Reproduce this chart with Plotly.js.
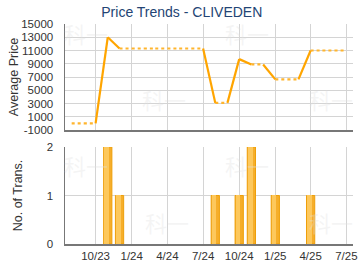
<!DOCTYPE html>
<html>
<head>
<meta charset="utf-8">
<script src="https://cdn.plot.ly/plotly-3.0.1.min.js"></script>
<style>html,body{margin:0;padding:0;background:#fff;}#chart{width:360px;height:270px;}</style>
</head>
<body>
<div id="chart"></div>
<script>
// Monthly series (month start dates)
const months = ['2023-08-01','2023-09-01','2023-10-01','2023-11-01','2023-12-01','2024-01-01','2024-02-01','2024-03-01','2024-04-01','2024-05-01','2024-06-01','2024-07-01','2024-08-01','2024-09-01','2024-10-01','2024-11-01','2024-12-01','2025-01-01','2025-02-01','2025-03-01','2025-04-01','2025-05-01','2025-06-01','2025-07-01'];
const avgPrice = [0,0,0,13000,11300,11300,11300,11300,11300,11300,11300,11300,3100,3100,9700,8900,8900,6650,6650,6650,11000,11000,11000,11000];
const transCount = [0,0,0,2,1,0,0,0,0,0,0,0,1,0,1,2,0,1,0,0,1,0,0,0];
const tickVals = ['2023-10-01','2024-01-01','2024-04-01','2024-07-01','2024-10-01','2025-01-01','2025-04-01','2025-07-01'];
const tickText = ['10/23','1/24','4/24','7/24','10/24','1/25','4/25','7/25'];
const priceTicks = [-1000,1000,3000,5000,7000,9000,11000,13000,15000];
const priceTickText = ['-1000','1000','3000','5000','7000','9000','11000','13000','15000'];

// Build solid (changing) and dotted (carried) segments
const solidX = [], solidY = [], dotX = [], dotY = [];
for (let i = 0; i < months.length - 1; i++) {
  const tx = transCount[i+1] > 0 ? [solidX, solidY] : [dotX, dotY];
  tx[0].push(months[i], months[i+1], null);
  tx[1].push(avgPrice[i], avgPrice[i+1], null);
}
const barX = [], barY = [];
months.forEach((m, i) => { if (transCount[i] > 0) { barX.push(m); barY.push(transCount[i]); } });

const DAY = 86400000;
const orange = '#FFA500';
const traces = [
  {x: dotX, y: dotY, type: 'scatter', mode: 'lines', xaxis: 'x', yaxis: 'y',
   line: {color: '#FFB52E', width: 2.2, dash: 'dot'}, hoverinfo: 'skip', connectgaps: false},
  {x: solidX, y: solidY, type: 'scatter', mode: 'lines', xaxis: 'x', yaxis: 'y',
   line: {color: orange, width: 2.2}, hoverinfo: 'skip', connectgaps: false},
  {x: barX, y: barY, type: 'bar', xaxis: 'x2', yaxis: 'y2', width: 21*DAY,
   marker: {color: '#F6AE2A', line: {color: '#EE9F0A', width: 1}}, hoverinfo: 'skip'},
  {x: barX, y: barY, type: 'bar', xaxis: 'x2', yaxis: 'y2', width: 12*DAY, offset: -9*DAY,
   marker: {color: '#FDC85C', line: {width: 0}}, hoverinfo: 'skip'}
];

const font = {family: 'Liberation Sans, Arial, sans-serif', size: 11, color: '#333'};
const xrange = ['2023-07-15','2025-07-18'];
const wm = {text: '科一', showarrow: false, font: {family: 'Noto Sans CJK SC', size: 22, color: 'rgba(225,225,225,0.35)'}, xref: 'paper', yref: 'paper'};
const wmPos = [[-0.01,0.96],[0.26,0.66],[0.55,0.96],[0.84,0.66],[-0.01,0.36],[0.27,0.1],[0.55,0.36],[0.84,0.1]];
const annotations = wmPos.map(p => Object.assign({}, wm, {x: p[0], y: p[1], xanchor: 'left', yanchor: 'middle'}));

const layout = {
  width: 360, height: 270,
  margin: {l: 65, r: 7, t: 24, b: 26},
  paper_bgcolor: '#fff', plot_bgcolor: '#fff',
  font: font,
  showlegend: false,
  barmode: 'overlay',
  bargap: 0,
  title: {text: 'Price Trends - CLIVEDEN', font: {family: 'Liberation Sans, Arial, sans-serif', size: 14, color: '#234474'}, x: 0.505, xanchor: 'center', y: 0.955, yanchor: 'middle'},
  annotations: annotations,
  xaxis: {type: 'date', range: xrange, domain: [0,1], anchor: 'y', tickvals: tickVals, ticktext: tickText, showticklabels: false,
          showgrid: true, gridcolor: '#d4d4d4', gridwidth: 1, showline: true, linecolor: '#777', linewidth: 2, ticks: '', zeroline: false},
  yaxis: {domain: [0.518, 1], range: [-1000, 15000], tickvals: priceTicks, ticktext: priceTickText, showgrid: true, gridcolor: '#d4d4d4', gridwidth: 1,
          showline: true, linecolor: '#777', linewidth: 1.5, ticks: '', zeroline: false, ticklabelstandoff: 8, tickfont: {size: 11.5, color: '#333'},
          title: {text: 'Average Price', font: {size: 12.5, color: '#333'}, standoff: 0}},
  xaxis2: {type: 'date', range: xrange, domain: [0,1], anchor: 'y2', tickvals: tickVals, ticktext: tickText,
          showgrid: true, gridcolor: '#d4d4d4', gridwidth: 1, showline: true, linecolor: '#777', linewidth: 2, ticks: '', zeroline: false,
          tickfont: {size: 11.5, color: '#333'}},
  yaxis2: {domain: [0, 0.441], range: [0, 2], tickvals: [0,1,2], showgrid: true, gridcolor: '#d4d4d4', gridwidth: 1,
          showline: true, linecolor: '#777', linewidth: 1.5, ticks: '', zeroline: false, ticklabelstandoff: 8, tickfont: {size: 11.5, color: '#333'},
          title: {text: 'No. of Trans.', font: {size: 12.5, color: '#333'}, standoff: 21}}
};

Plotly.newPlot('chart', traces, layout, {staticPlot: true, displayModeBar: false});
</script>
</body>
</html>
